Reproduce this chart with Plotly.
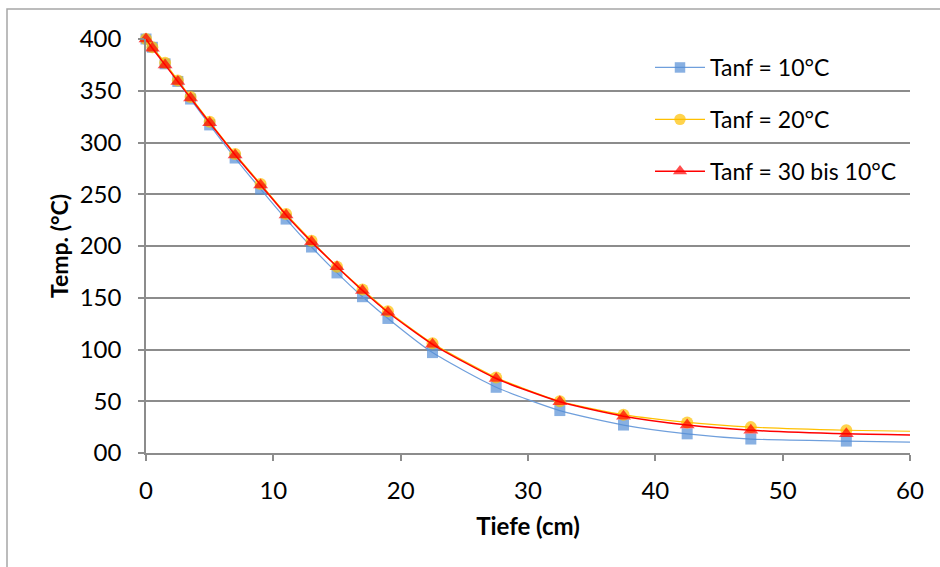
import plotly.graph_objects as go

# depth (cm); last value 60 only carries the smoothed line end (no marker)
depth = [0, 0.5, 1.5, 2.5, 3.5, 5, 7, 9, 11, 13, 15, 17, 19, 22.5, 27.5, 32.5, 37.5, 42.5, 47.5, 55, 60]
t_10 = [400, 392, 376, 359, 342, 317, 285, 255, 226, 199, 174, 151, 130, 97, 63.5, 41, 27, 18.5, 13.5, 11.5, 10.5]
t_20 = [400, 392, 377, 360, 344, 320, 289, 260, 231, 205, 180, 158, 137, 106, 73, 50, 37, 29.5, 25, 22, 21]
t_30 = [400, 391, 375, 359, 343, 319, 288, 259, 230, 204, 180, 157, 136, 105, 72, 49.5, 35.5, 27, 22, 18.5, 17.5]

names = ["Tanf = 10°C", "Tanf = 20°C", "Tanf = 30 bis 10°C"]
y_ticks = [0, 50, 100, 150, 200, 250, 300, 350, 400]
y_ticktext = ["00", "50", "100", "150", "200", "250", "300", "350", "400"]
x_ticks = [0, 10, 20, 30, 40, 50, 60]

FONT = "Lato"
GRID = "#8c8c8c"

styles = [
    dict(line_color="#6f9fdc", lw=1.2, mcolor="#558ED5", symbol="square", size=11),
    dict(line_color="#FFC000", lw=1.2, mcolor="#FFC000", symbol="circle", size=12),
    dict(line_color="#FF0000", lw=1.5, mcolor="#FF0000", symbol="triangle-up", size=13),
]

fig = go.Figure()
for i, (series, st) in enumerate(zip([t_10, t_20, t_30], styles)):
    sizes = [st["size"]] * (len(depth) - 1) + [0]
    fig.add_trace(go.Scatter(
        x=depth, y=series, name=names[i], mode="lines+markers",
        line=dict(color=st["line_color"], width=st["lw"], shape="spline", smoothing=0.6),
        marker=dict(color=st["mcolor"], symbol=st["symbol"], size=sizes, line=dict(width=0)),
        cliponaxis=False, legendgroup=f"g{i}",
    ))

L, R, T, B = 146, 30, 39, 114
W, H = 940, 567
pw, ph = W - L - R, H - T - B

# outer chart frame (partially cut off at right/bottom like the reference)
fig.add_shape(type="rect", xref="paper", yref="paper",
              x0=(7 - L) / pw, x1=(W + 10 - L) / pw,
              y0=-(H + 10 - (H - B)) / ph, y1=1 + (T - 9) / ph,
              line=dict(color="#a6a6a6", width=1.5), layer="below")

fig.update_layout(
    width=W, height=H,
    margin=dict(l=L, r=R, t=T, b=B),
    paper_bgcolor="white", plot_bgcolor="white",
    font=dict(family=FONT, size=24, color="black"),
    showlegend=True,
    legend=dict(x=(650 - L) / pw, y=1 - (46 - T) / ph, xanchor="left", yanchor="top",
                bgcolor="rgba(0,0,0,0)", font=dict(size=23), traceorder="grouped",
                tracegroupgap=19, itemwidth=50),
    xaxis=dict(range=[0, 60], tickvals=x_ticks, showgrid=False, zeroline=False,
               showline=True, linecolor=GRID, linewidth=1.5,
               ticks="outside", ticklen=6, tickcolor=GRID, tickwidth=1.5,
               ticklabelstandoff=9,
               title=dict(text="<b>Tiefe (cm)</b>", font=dict(size=24), standoff=16)),
    yaxis=dict(range=[0, 400], tickvals=y_ticks, ticktext=y_ticktext,
               showgrid=True, gridcolor=GRID, gridwidth=1.5, zeroline=False,
               showline=True, linecolor=GRID, linewidth=1.5,
               ticks="outside", ticklen=6, tickcolor=GRID, tickwidth=1.5,
               ticklabelstandoff=12,
               title=dict(text="<b>Temp. (°C)</b>", font=dict(size=23), standoff=5)),
)

fig.write_html("out.html")
